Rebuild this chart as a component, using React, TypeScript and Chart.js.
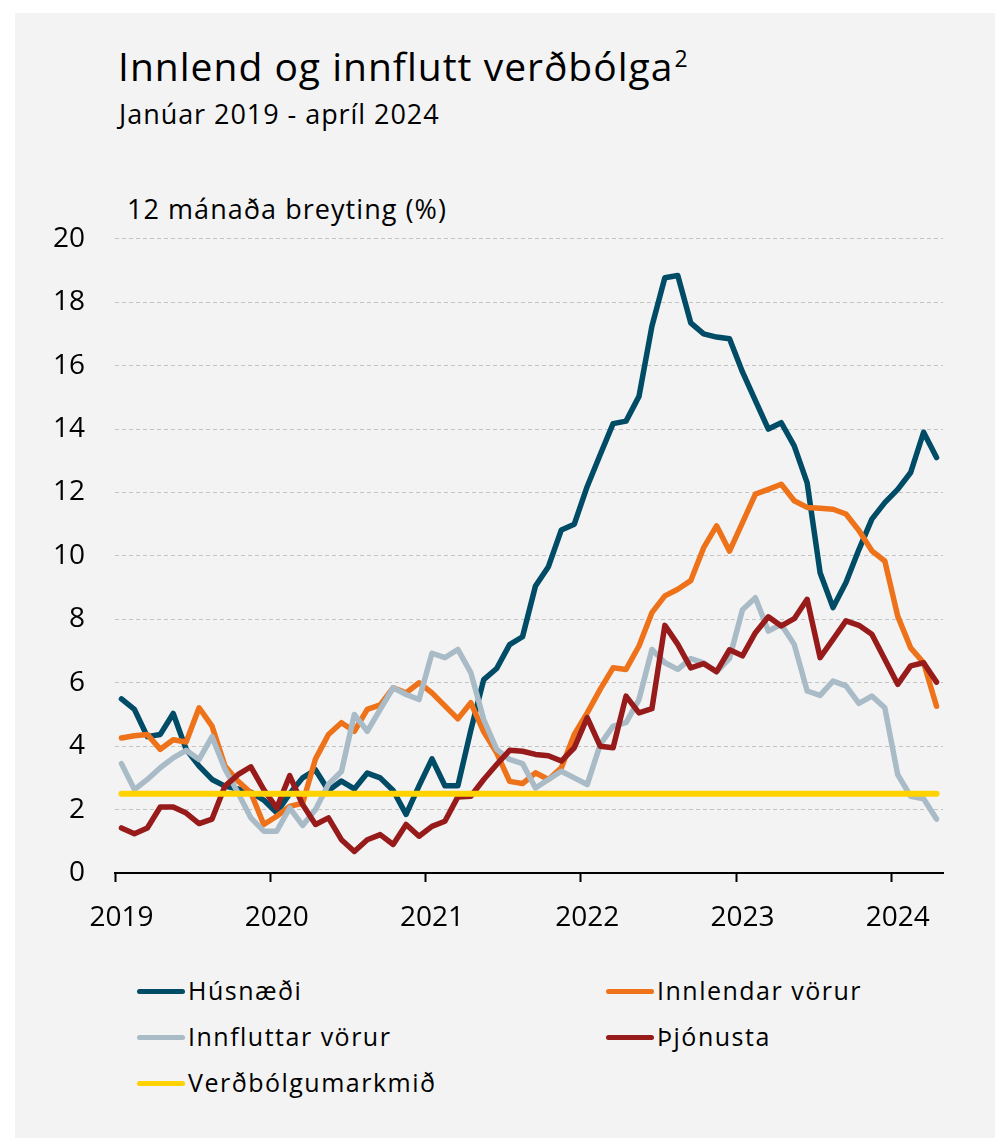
import React, { useEffect, useRef } from 'react';
import { Chart, registerables } from 'chart.js';

Chart.register(...registerables);

const years = ['2019', '2020', '2021', '2022', '2023', '2024'];
const monthNames = ['jan', 'feb', 'mar', 'apr', 'maí', 'jún', 'júl', 'ágú', 'sep', 'okt', 'nóv', 'des'];
const categories = years.flatMap((y) => monthNames.map((m) => `${m} ${y}`)).slice(0, 64);

const husnaedi = [
  5.49, 5.16, 4.3, 4.37, 5.03, 3.9, 3.37, 2.95, 2.74, 2.65, 2.55, 2.3,
  1.9, 2.5, 3.0, 3.25, 2.6, 2.9, 2.65, 3.15, 3.0, 2.6, 1.85, 2.75,
  3.6, 2.75, 2.75, 4.5, 6.1, 6.45, 7.2, 7.45, 9.05, 9.66, 10.82, 11.0,
  12.19, 13.19, 14.17, 14.25, 15.03, 17.24, 18.77, 18.84, 17.35, 17.0, 16.9, 16.85,
  15.8, 14.9, 14.0, 14.2, 13.47, 12.3, 9.47, 8.37, 9.16, 10.2, 11.16, 11.68,
  12.1, 12.63, 13.9, 13.1,
];

const innlendarVorur = [
  4.26, 4.33, 4.37, 3.9, 4.2, 4.13, 5.21, 4.63, 3.37, 2.9, 2.53, 1.53,
  1.79, 2.1, 2.2, 3.6, 4.37, 4.74, 4.47, 5.16, 5.3, 5.84, 5.68, 6.0,
  5.68, 5.27, 4.86, 5.37, 4.45, 3.79, 2.89, 2.82, 3.16, 2.95, 3.32, 4.37,
  5.05, 5.79, 6.47, 6.42, 7.16, 8.21, 8.74, 8.95, 9.22, 10.26, 10.95, 10.15,
  11.05, 11.95, 12.1, 12.26, 11.74, 11.53, 11.5, 11.47, 11.32, 10.8, 10.16, 9.84,
  8.1, 7.1, 6.63, 5.26,
];

const innfluttarVorur = [
  3.45, 2.63, 2.95, 3.32, 3.63, 3.87, 3.58, 4.3, 3.28, 2.53, 1.74, 1.32,
  1.32, 2.05, 1.5, 2.0, 2.8, 3.2, 5.0, 4.47, 5.16, 5.84, 5.63, 5.47,
  6.93, 6.79, 7.05, 6.32, 4.84, 3.9, 3.58, 3.45, 2.68, 2.95, 3.21, 3.0,
  2.79, 4.05, 4.63, 4.74, 5.47, 7.05, 6.63, 6.42, 6.76, 6.63, 6.34, 6.77,
  8.3, 8.68, 7.63, 7.84, 7.21, 5.74, 5.6, 6.05, 5.9, 5.35, 5.58, 5.21,
  3.1, 2.42, 2.34, 1.7,
];

const thjonusta = [
  1.42, 1.24, 1.42, 2.08, 2.08, 1.89, 1.56, 1.7, 2.74, 3.1, 3.35, 2.63,
  2.05, 3.07, 2.16, 1.53, 1.74, 1.05, 0.68, 1.05, 1.21, 0.9, 1.53, 1.16,
  1.47, 1.63, 2.4, 2.42, 2.95, 3.42, 3.87, 3.84, 3.74, 3.7, 3.53, 3.95,
  4.9, 4.0, 3.95, 5.58, 5.05, 5.18, 7.81, 7.21, 6.47, 6.6, 6.35, 7.04,
  6.85, 7.58, 8.08, 7.79, 8.02, 8.63, 6.79, 7.37, 7.95, 7.81, 7.53, 6.74,
  5.95, 6.53, 6.63, 6.02,
];

const verdbolgumarkmid = [
  2.5, 2.5, 2.5, 2.5, 2.5, 2.5, 2.5, 2.5, 2.5, 2.5, 2.5, 2.5,
  2.5, 2.5, 2.5, 2.5, 2.5, 2.5, 2.5, 2.5, 2.5, 2.5, 2.5, 2.5,
  2.5, 2.5, 2.5, 2.5, 2.5, 2.5, 2.5, 2.5, 2.5, 2.5, 2.5, 2.5,
  2.5, 2.5, 2.5, 2.5, 2.5, 2.5, 2.5, 2.5, 2.5, 2.5, 2.5, 2.5,
  2.5, 2.5, 2.5, 2.5, 2.5, 2.5, 2.5, 2.5, 2.5, 2.5, 2.5, 2.5,
  2.5, 2.5, 2.5, 2.5,
];

const seriesNames = ['Húsnæði', 'Innlendar vörur', 'Innfluttar vörur', 'Þjónusta', 'Verðbólgumarkmið'];
const seriesColors = ['#004B66', '#EE7219', '#A8BBC6', '#981B1B', '#FFD200'];

const FONT = '"Open Sans", "Noto Sans", sans-serif';

export default function App() {
  const canvasRef = useRef<HTMLCanvasElement | null>(null);

  useEffect(() => {
    const canvas = canvasRef.current;
    if (!canvas) return;
    const seriesData = [husnaedi, innlendarVorur, innfluttarVorur, thjonusta, verdbolgumarkmid];
    const orders = [4, 3, 2, 1, 0];
    const chart = new Chart(canvas, {
      type: 'line',
      data: {
        labels: categories,
        datasets: seriesData.map((d, i) => ({
          label: seriesNames[i],
          data: d,
          borderColor: seriesColors[i],
          backgroundColor: seriesColors[i],
          borderWidth: i === 4 ? 6 : 5.5,
          pointRadius: 0,
          pointHoverRadius: 0,
          tension: 0,
          borderCapStyle: 'round',
          borderJoinStyle: 'round',
          fill: false,
          order: orders[i],
        })),
      },
      options: {
        responsive: false,
        maintainAspectRatio: false,
        animation: false,
        layout: { padding: { left: 0, right: 52, top: 0, bottom: 0 } },
        plugins: {
          legend: { display: false },
          title: { display: false },
          tooltip: { enabled: false },
        },
        scales: {
          x: {
            type: 'category',
            offset: true,
            afterFit: (scale: any) => {
              scale.height = 67;
            },
            grid: {
              offset: true,
              drawOnChartArea: false,
              drawTicks: true,
              tickLength: 9,
              tickWidth: 2,
              tickColor: (ctx: any) =>
                typeof ctx.index === 'number' && ctx.index % 12 === 0 ? '#000000' : 'rgba(0,0,0,0)',
            },
            border: { display: true, color: '#000000', width: 2 },
            ticks: {
              autoSkip: false,
              maxRotation: 0,
              minRotation: 0,
              padding: 19,
              color: '#000000',
              font: { family: FONT, size: 28 },
              callback: (_v: any, index: number) => (index % 12 === 0 ? years[index / 12] : ''),
            },
          },
          y: {
            min: 0,
            max: 20,
            afterFit: (scale: any) => {
              scale.width = 100;
            },
            ticks: {
              stepSize: 2,
              padding: 30,
              color: '#000000',
              font: { family: FONT, size: 28 },
            },
            grid: {
              drawTicks: false,
              lineWidth: 1,
              color: (ctx: any) => (ctx.tick && ctx.tick.value === 0 ? 'rgba(0,0,0,0)' : '#c4c4c4'),
            },
            border: { display: false, dash: [4, 3] },
          },
        },
      },
    });
    return () => chart.destroy();
  }, []);

  const legendItems = [
    { i: 0, left: 137, top: 978 },
    { i: 1, left: 606, top: 978 },
    { i: 2, left: 137, top: 1024 },
    { i: 3, left: 606, top: 1024 },
    { i: 4, left: 137, top: 1070 },
  ];

  return (
    <div
      style={{
        position: 'absolute',
        left: 0,
        top: 0,
        width: 995,
        height: 1138,
        background: '#ffffff',
        overflow: 'hidden',
        fontFamily: FONT,
        color: '#000',
      }}
    >
      <div style={{ position: 'absolute', left: 15, top: 13, width: 980, height: 1125, background: '#f3f3f3' }} />
      <div
        style={{
          position: 'absolute',
          left: 118,
          top: 46,
          fontSize: 39,
          lineHeight: '39px',
          letterSpacing: 1.0,
          whiteSpace: 'nowrap',
        }}
      >
        Innlend og innflutt verðbólga
        <span style={{ fontSize: 23, position: 'relative', top: -14, marginLeft: 1, letterSpacing: 0 }}>2</span>
      </div>
      <div
        style={{
          position: 'absolute',
          left: 119,
          top: 100,
          fontSize: 27,
          lineHeight: '27px',
          letterSpacing: 0.95,
          whiteSpace: 'nowrap',
        }}
      >
        Janúar 2019 - apríl 2024
      </div>
      <div
        style={{
          position: 'absolute',
          left: 127,
          top: 195,
          fontSize: 27,
          lineHeight: '27px',
          letterSpacing: 1.05,
          whiteSpace: 'nowrap',
        }}
      >
        12 mánaða breyting (%)
      </div>
      <canvas
        ref={canvasRef}
        width={980}
        height={748}
        style={{ position: 'absolute', left: 15, top: 192, width: 980, height: 748 }}
      />
      {legendItems.map((it) => (
        <div key={it.i}>
          <div
            style={{
              position: 'absolute',
              left: it.left,
              top: it.top + 11,
              width: 48,
              height: 5,
              borderRadius: 3,
              background: seriesColors[it.i],
            }}
          />
          <div
            style={{
              position: 'absolute',
              left: it.left + 51,
              top: it.top,
              fontSize: 25,
              lineHeight: '25px',
              letterSpacing: 1.5,
              whiteSpace: 'nowrap',
            }}
          >
            {seriesNames[it.i]}
          </div>
        </div>
      ))}
    </div>
  );
}
